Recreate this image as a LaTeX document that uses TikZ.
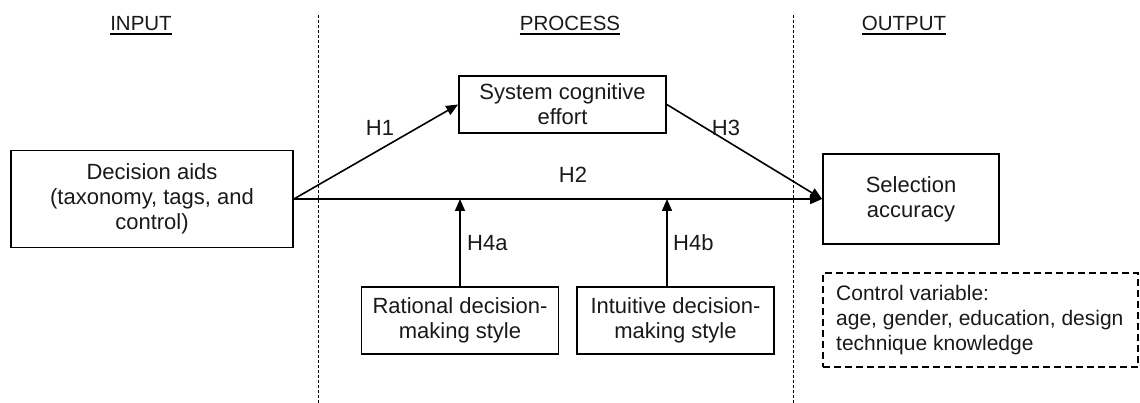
\documentclass[tikz,border=0pt]{standalone}
\usepackage{fontspec}
\setmainfont{Liberation Sans}
\usetikzlibrary{arrows.meta}
\begin{document}
\begin{tikzpicture}[x=1pt,y=-1pt,
  every node/.style={font=\fontsize{22}{25}\selectfont, text=black!90},
  box/.style={draw, line width=1.7pt, align=center, inner sep=0pt},
  ctrlbox/.style={draw, dash pattern=on 7pt off 4pt, line width=1.6pt, inner sep=0pt},
  link/.style={line width=1.6pt, -{Triangle[length=12pt,width=10pt]}},
  divider/.style={line width=0.8pt, dash pattern=on 3pt off 2pt},
  header/.style={anchor=base, inner sep=0pt, font=\fontsize{20.5}{24}\selectfont},
  hlabel/.style={inner sep=0pt}]
\useasboundingbox (0,0) rectangle (1140,403);

% column headings
\node[header] (hin)  at (141,31) {INPUT};
\node[header] (hpro) at (570,31) {PROCESS};
\node[header] (hout) at (904,31) {OUTPUT};
\foreach \h in {hin,hpro,hout}
  \draw[line width=1.5pt] ([yshift=-3pt]\h.base west) -- ([yshift=-3pt]\h.base east);

% column separators
\coordinate (d1top) at (318,15);
\coordinate (d1bot) at (318,403);
\coordinate (d2top) at (793,15);
\coordinate (d2bot) at (793,403);
\draw[divider] (d1top) -- (d1bot);
\draw[divider] (d2top) -- (d2bot);

% constructs
\node[box, minimum width=282pt, minimum height=97pt] (aids) at (152,199)
  {Decision aids\\(taxonomy, tags, and\\control)};
\node[box, minimum width=207pt, minimum height=57pt] (effort) at (562.5,104.5)
  {System cognitive\\effort};
\node[box, minimum width=176pt, minimum height=90pt] (acc) at (911,199)
  {Selection\\accuracy};
\node[box, minimum width=197pt, minimum height=67pt] (rational) at (460,320.5)
  {Rational decision-\\making style};
\node[box, minimum width=197pt, minimum height=67pt] (intuitive) at (675.5,320.5)
  {Intuitive decision-\\making style};

% control variables
\node[ctrlbox, minimum width=315pt, minimum height=94pt, anchor=north west] (ctrl) at (822,272) {};
\node[anchor=west, align=left, inner sep=0pt, font=\fontsize{21}{25}\selectfont] (ctrltext)
  at ([xshift=14pt]ctrl.west)
  {Control variable:\\age, gender, education, design\\technique knowledge};

% hypothesised paths
\coordinate (m4b) at (667,199);
\draw[link] (aids.east) -- (effort.west);
\draw[link] (aids.east) -- (acc.west);
\draw[link] (effort.east) -- (acc.west);
\draw[link] (rational.north) -- (rational.north |- aids.east);
\draw[link] (intuitive.north -| m4b) -- (m4b);

% path labels
\node[hlabel] (l1)  at (380,128) {H1};
\node[hlabel] (l2)  at (573,175) {H2};
\node[hlabel] (l3)  at (726,128) {H3};
\node[hlabel, anchor=west] (l4a) at (467,243) {H4a};
\node[hlabel, anchor=west] (l4b) at (673,243) {H4b};
\end{tikzpicture}
\end{document}
